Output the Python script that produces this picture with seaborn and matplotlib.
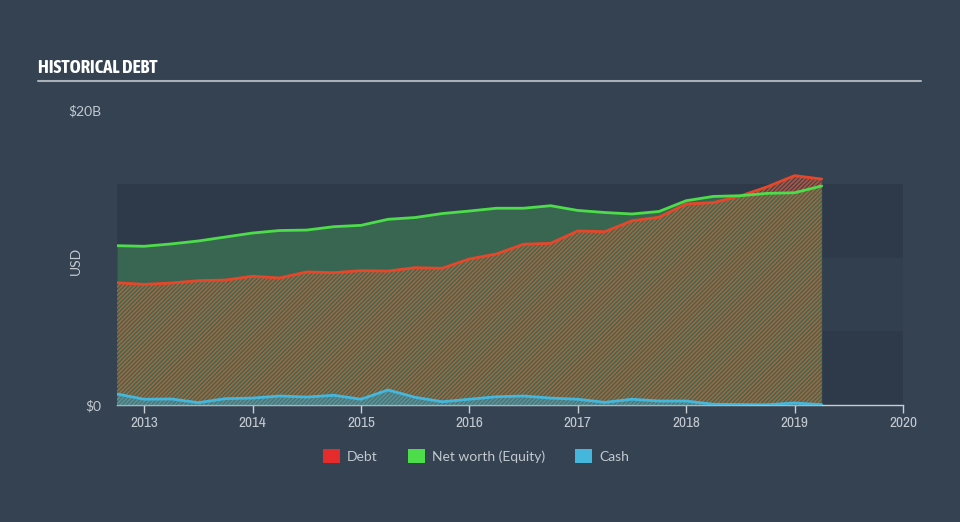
import matplotlib
matplotlib.use("Agg")
import matplotlib.pyplot as plt
from matplotlib import font_manager
from matplotlib.patches import Patch
import seaborn as sns
import pandas as pd
import numpy as np

# ---- data (billions USD) ----
periods = [2012.75, 2013.0, 2013.25, 2013.5, 2013.75, 2014.0, 2014.25, 2014.5, 2014.75,
           2015.0, 2015.25, 2015.5, 2015.75, 2016.0, 2016.25, 2016.5, 2016.75,
           2017.0, 2017.25, 2017.5, 2017.75, 2018.0, 2018.25, 2018.5, 2018.75,
           2019.0, 2019.25]
debt = [8.29, 8.18, 8.27, 8.43, 8.47, 8.73, 8.61, 9.02, 8.97, 9.11, 9.08, 9.31, 9.27,
        9.90, 10.24, 10.90, 10.96, 11.80, 11.75, 12.49, 12.73, 13.63, 13.72, 14.17,
        14.80, 15.55, 15.32]
equity = [10.80, 10.76, 10.92, 11.12, 11.39, 11.66, 11.83, 11.86, 12.09, 12.18, 12.59,
          12.71, 12.98, 13.15, 13.34, 13.34, 13.51, 13.19, 13.05, 12.95, 13.12, 13.85,
          14.14, 14.19, 14.35, 14.39, 14.85]
cash = [0.75, 0.39, 0.41, 0.16, 0.43, 0.47, 0.61, 0.54, 0.66, 0.39, 1.02, 0.52, 0.22,
        0.39, 0.56, 0.61, 0.47, 0.39, 0.18, 0.39, 0.27, 0.27, 0.05, 0.03, 0.02, 0.14, 0.02]
year_ticks = [2013, 2014, 2015, 2016, 2017, 2018, 2019, 2020]
legend_labels = ["Debt", "Net worth (Equity)", "Cash"]

BG = "#344252"
BAND_DARK = "#2e3a4a"
BAND_LIGHT = "#323f4e"
TEXT = "#c3c9cf"
C_DEBT = "#e5472b"
C_DEBT_LEG = "#e52b2b"
C_EQ = "#4ddc4a"
C_CASH = "#45b6dc"

sns.set_theme(style="dark")
plt.rcParams["font.family"] = ["Lato", "DejaVu Sans"]
plt.rcParams["hatch.linewidth"] = 1.2

# find a condensed family for the title, if any is installed (prefer bold)
cond = None
cond_bold = None
for f in font_manager.fontManager.ttflist:
    n = f.name
    if "Condensed" in n or "Narrow" in n:
        if cond is None:
            cond = n
        if f.weight in ("bold", 700) or (isinstance(f.weight, int) and f.weight >= 600):
            if cond_bold is None:
                cond_bold = n
title_name = cond_bold or cond
title_family = [title_name, "DejaVu Sans"] if title_name else ["DejaVu Sans"]
tick_family = [cond, "DejaVu Sans"] if cond else ["DejaVu Sans"]

df = pd.DataFrame({"period": periods, "Debt": debt, "Equity": equity, "Cash": cash})
x = np.array(periods)

fig = plt.figure(figsize=(9.6, 5.22), dpi=100, facecolor=BG)
ax = fig.add_axes([117 / 960, 1 - 405 / 522, (903 - 117) / 960, (405 - 110) / 522])
ax.set_facecolor(BG)

ax.set_xlim(2012.75, 2020.0)
ax.set_ylim(0, 20)

# background bands
ax.axhspan(0, 5, color=BAND_DARK, zorder=0, lw=0)
ax.axhspan(5, 10, color=BAND_LIGHT, zorder=0, lw=0)
ax.axhspan(10, 15, color=BAND_DARK, zorder=0, lw=0)

# areas
eq = df["Equity"].to_numpy()
db = df["Debt"].to_numpy()
ax.fill_between(x, 0, eq, color="#3b6e53", alpha=0.85, lw=0, zorder=1)
ax.fill_between(x, eq, db, where=db > eq, interpolate=True, facecolor="#6a3a4a",
                alpha=0.6, lw=0, zorder=1)
ax.fill_between(x, 0, db, facecolor="none", edgecolor="#c9683c", hatch="////////",
                lw=0, alpha=0.7, zorder=2)
ax.fill_between(x, 0, df["Cash"], facecolor="#4a8088", alpha=0.6, lw=0, zorder=3)
ax.fill_between(x, 0, df["Cash"], facecolor="none", edgecolor=C_CASH, hatch="////////",
                lw=0, alpha=0.4, zorder=3)

# lines
sns.lineplot(data=df, x="period", y="Debt", ax=ax, color=C_DEBT, lw=2, zorder=4)
sns.lineplot(data=df, x="period", y="Equity", ax=ax, color=C_EQ, lw=2, zorder=5)
sns.lineplot(data=df, x="period", y="Cash", ax=ax, color=C_CASH, lw=2, zorder=5)

ax.grid(False)
for s in ["top", "right", "left"]:
    ax.spines[s].set_visible(False)
ax.spines["bottom"].set_color("#c8ced4")
ax.spines["bottom"].set_linewidth(1)

ax.set_xticks(year_ticks)
ax.set_xticklabels([str(y) for y in year_ticks], color=TEXT, fontsize=11,
                   family=tick_family)
ax.tick_params(axis="x", bottom=True, length=6, width=1, color="#c8ced4", pad=2)
ax.set_yticks([0, 20])
ax.set_yticklabels(["$0", "$20B"], color=TEXT, fontsize=10)
ax.tick_params(axis="y", left=False, pad=5)
ax.set_xlabel("")
ax.set_ylabel("USD", color=TEXT, fontsize=10)
ax.yaxis.set_label_coords(-0.045, 0.49)

# title and rule
fig.text(38 / 960, 1 - 68 / 522, "HISTORICAL DEBT", color="white", fontsize=13.5,
         fontweight="bold", family=title_family, va="center")
fig.add_artist(plt.Line2D([38 / 960, 921 / 960], [1 - 81 / 522, 1 - 81 / 522],
                          color="#a9b0b7", lw=1.5))

# legend
handles = [Patch(facecolor=C_DEBT_LEG, edgecolor="none"),
           Patch(facecolor=C_EQ, edgecolor="none"),
           Patch(facecolor=C_CASH, edgecolor="none")]
fig.legend(handles, legend_labels, loc="center", bbox_to_anchor=(476 / 960, 1 - 456 / 522),
           ncol=3, frameon=False, fontsize=10, labelcolor=TEXT, handlelength=1.2,
           handleheight=1.2, handletextpad=0.5, columnspacing=2.2)

fig.savefig("out.png", dpi=100, facecolor=BG)
